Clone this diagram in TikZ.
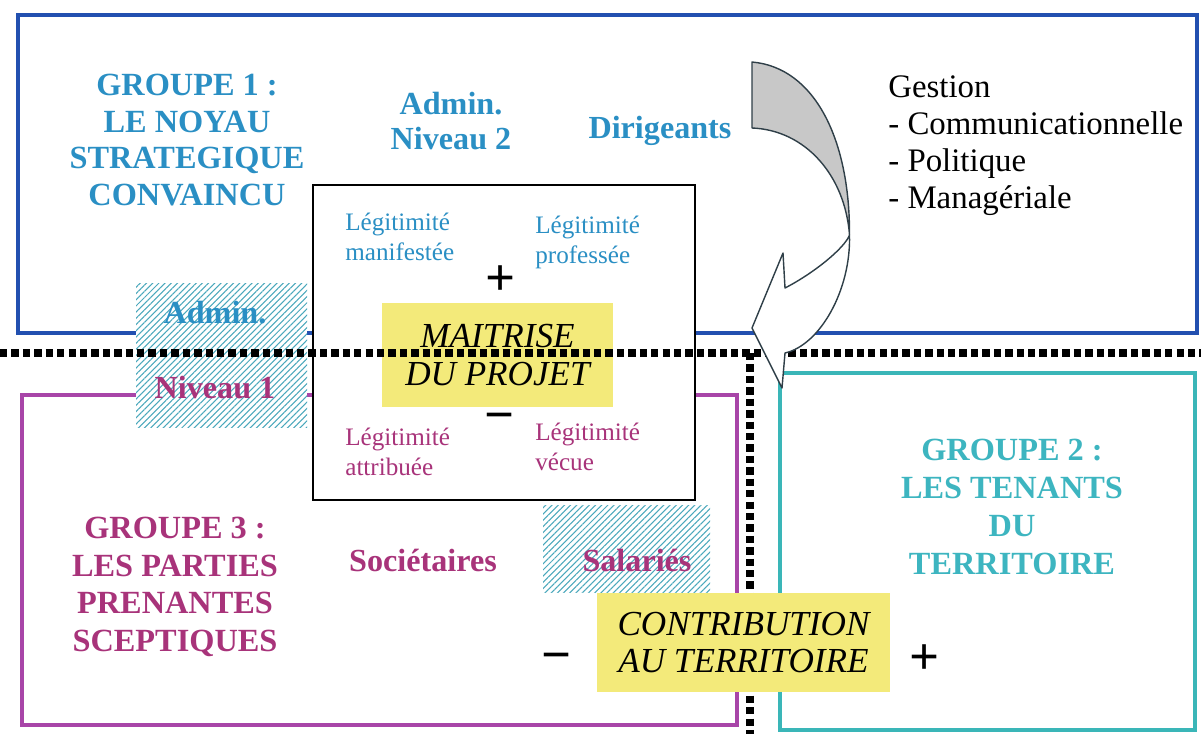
\documentclass[tikz,border=0pt]{standalone}
\usepackage{fontspec}
\setmainfont{Liberation Serif}
\usetikzlibrary{patterns.meta}
\definecolor{grponeblue}{HTML}{2A8FC4}
\definecolor{grptwoteal}{HTML}{3DB5C0}
\definecolor{grpthreemag}{HTML}{A8337A}
\definecolor{lineblue}{HTML}{2250B0}
\definecolor{linemag}{HTML}{A845A8}
\definecolor{lineteal}{HTML}{3AB6B8}
\definecolor{axisyellow}{HTML}{F3EA7A}
\definecolor{hatchteal}{HTML}{4AA8BC}
\definecolor{arrowgray}{HTML}{C8C8C8}
\definecolor{arrowline}{HTML}{2F3F48}

\begin{document}
\begin{tikzpicture}[
 boxline/.style={line width=2.8pt},
 grouptext/.style={align=center,font=\fontsize{18.4}{21}\selectfont\bfseries},
 actor/.style={align=center,inner sep=1pt,font=\fontsize{18.3}{20}\selectfont\bfseries},
 legit/.style={anchor=west,align=left,inner sep=0pt,font=\fontsize{14.3}{17}\selectfont},
 sign/.style={inner sep=0pt,font=\fontsize{30}{30}\selectfont\bfseries},
 axisbox/.style={fill=axisyellow,align=center,inner sep=0pt,font=\fontsize{20}{21.5}\selectfont\itshape},
 hatchbox/.style={fill=white,postaction={pattern={Lines[angle=45,distance=2.5pt,line width=0.6pt]},pattern color=hatchteal},inner sep=0pt},
 dotline/.style={line width=4.2pt,dash pattern=on 4.2pt off 2.3pt},
 arrowface/.style={draw=arrowline,line width=0.8pt,line join=round}]
\useasboundingbox (0,0) rectangle (24.02,-14.68);

\draw[boxline,lineblue] (0.36,-0.3) rectangle (23.94,-6.66);
\draw[boxline,linemag] (0.44,-7.9) rectangle (14.74,-14.5);
\draw[boxline,lineteal] (15.6,-7.46) rectangle (23.9,-14.6);

\node[draw,fill=white,line width=1.2pt,minimum width=7.64cm,minimum height=6.3cm] (legbox) at (10.08,-6.85) {};
\node[hatchbox,minimum width=3.42cm,minimum height=2.88cm] (adminone) at (4.43,-7.1) {};
\node[hatchbox,minimum width=3.34cm,minimum height=1.74cm] (salbox) at (12.53,-10.97) {};

\node[grouptext,text=grponeblue] (grpone) at (3.74,-2.8) {GROUPE 1 :\\LE NOYAU\\STRATEGIQUE\\CONVAINCU};
\node[grouptext,text=grpthreemag,font=\fontsize{18.4}{21.5}\selectfont\bfseries] (grpthree) at (3.5,-11.74) {GROUPE 3 :\\LES PARTIES\\PRENANTES\\SCEPTIQUES};
\node[grouptext,text=grptwoteal,font=\fontsize{18.4}{21.6}\selectfont\bfseries] (grptwo) at (20.24,-10.14) {GROUPE 2 :\\LES TENANTS\\DU\\TERRITOIRE};

\node[actor,text=grponeblue] (admintwo) at (9.02,-2.42) {Admin.\\Niveau 2};
\node[actor,text=grponeblue] (dirig) at (13.2,-2.62) {Dirigeants};
\node[actor,text=grponeblue] (admtxt) at (4.3,-6.26) {Admin.};
\node[actor,text=grpthreemag] (nivtxt) at (4.3,-7.76) {Niveau 1};
\node[actor,text=grpthreemag] (societ) at (8.46,-11.2) {Sociétaires};
\node[actor,text=grpthreemag] (salar) at (12.74,-11.2) {Salariés};

\node[anchor=west,align=left,inner sep=0pt,font=\fontsize{18.7}{21}\selectfont] (gestion) at (17.76,-2.92) {Gestion\\- Communicationnelle\\- Politique\\- Managériale};

\node[legit,text=grponeblue] (legman) at (6.9,-4.74) {Légitimité\\manifestée};
\node[legit,text=grponeblue] (legpro) at (10.7,-4.84) {Légitimité\\professée};
\node[legit,text=grpthreemag] (legatt) at (6.9,-9.04) {Légitimité\\attribuée};
\node[legit,text=grpthreemag] (legvec) at (10.7,-8.94) {Légitimité\\vécue};
\node[sign] (plusone) at (10.02,-5.62) {+};
\node[sign] (minusone) at (10.0,-8.46) {−};

\node[axisbox,minimum width=4.62cm,minimum height=2.08cm] (maitrise) at (9.95,-7.1) {MAITRISE\\DU PROJET};

\draw[dotline] (0,-7.06) -- (24.02,-7.06);
\draw[dotline] (15.0,-7.06) -- (15.0,-14.68);

\node[axisbox,minimum width=5.86cm,minimum height=1.98cm] (contrib) at (14.87,-12.85) {CONTRIBUTION\\AU TERRITOIRE};
\node[sign] (minustwo) at (11.14,-13.26) {−};
\node[sign] (plustwo) at (18.5,-13.2) {+};

\coordinate (bend) at (16.99,-4.7);
\filldraw[arrowface,fill=white] (15.64,-7.76) -- (15.04,-6.56) -- (15.66,-5.06) -- (15.7,-5.76)
 .. controls (16.3,-5.45) and (16.9,-4.95) .. (bend)
 .. controls (17.02,-5.8) and (16.4,-6.9) .. (15.7,-7.06) -- cycle;
\filldraw[arrowface,fill=arrowgray] (15.04,-1.24) .. controls (16.3,-1.35) and (17.0,-2.8) .. (bend)
 .. controls (16.9,-3.5) and (16.1,-2.6) .. (15.04,-2.56) -- cycle;
\end{tikzpicture}
\end{document}
